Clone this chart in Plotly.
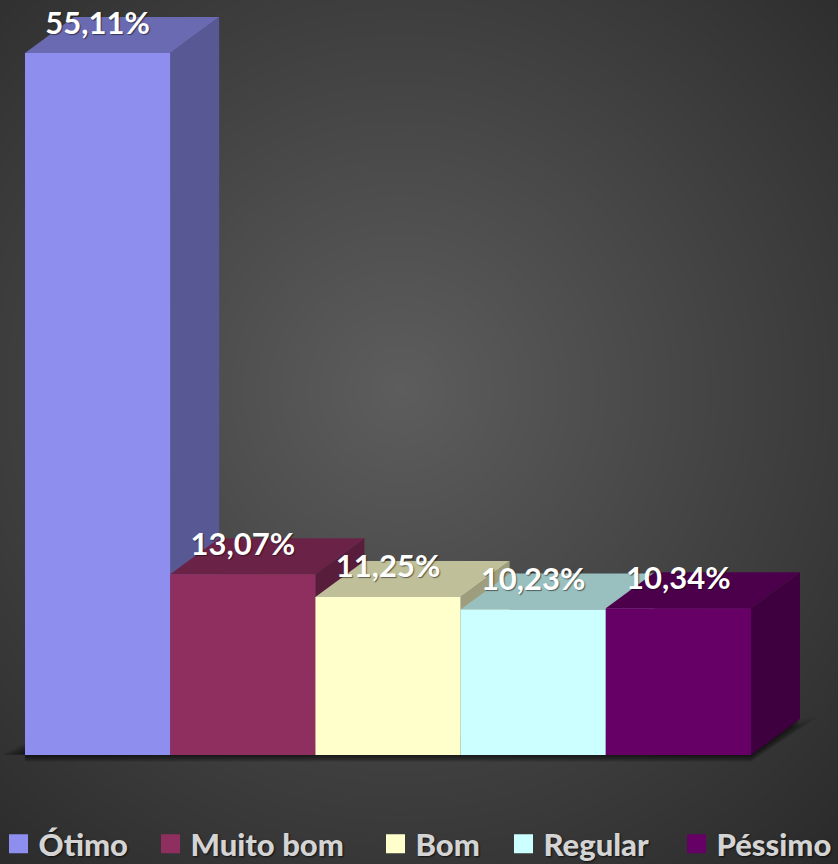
import numpy as np
import plotly.graph_objects as go

categories = ["Ótimo", "Muito bom", "Bom", "Regular", "Péssimo"]
values = [55.11, 13.07, 11.25, 10.23, 10.34]
labels = ["55,11%", "13,07%", "11,25%", "10,23%", "10,34%"]
colors = ["#8E8EEE", "#8E2F5F", "#FFFFCC", "#CCFFFF", "#660066"]
legend_left_px = [9, 161, 386, 514, 687]

W, H = 838, 864
BASE = -1.5          # axis floor
PX_X, PX_Y = 145.2, 12.4
X_RANGE = [-25 / PX_X, (W - 25) / PX_X]
Y_RANGE = [BASE - (H - 755) / PX_Y, BASE + 755 / PX_Y]
DX, DY = 49 / PX_X, 36 / PX_Y


def shade(hex_color, f):
    r, g, b = (int(hex_color[i:i + 2], 16) for i in (1, 3, 5))
    return f"rgb({r * f:.0f},{g * f:.0f},{b * f:.0f})"


def poly(xs, ys, color):
    return go.Scatter(x=xs + xs[:1], y=ys + ys[:1], mode="lines", fill="toself",
                      fillcolor=color, line=dict(width=0), hoverinfo="skip",
                      showlegend=False)


fig = go.Figure()

# radial dark background
gx = np.linspace(*X_RANGE, 140)
gy = np.linspace(*Y_RANGE, 144)
mx, my = np.meshgrid(gx, gy)
r = np.hypot((mx - X_RANGE[0]) * PX_X - 400, (Y_RANGE[1] - my) * PX_Y - 390)
fig.add_trace(go.Heatmap(x=gx, y=gy, z=np.clip(93 - r * 0.08, 40, 96), zmin=0, zmax=255,
                         zsmooth="best", showscale=False, hoverinfo="skip",
                         colorscale=[[0, "#000000"], [1, "#ffffff"]]))

# soft floor shadow
n = len(values)
for t in (1.0, 0.85, 0.7, 0.55, 0.4, 0.25, 0.1):
    fig.add_trace(poly(
        [-0.16 * t, 0, 0, n, n + DX + 0.14 * t, n + DX],
        [BASE, BASE + 0.9 * t, BASE - 0.55 * t, BASE - 0.55 * t, BASE + DY + 0.3 * t, BASE + DY - 0.6 * t],
        "rgba(0,0,0,0.11)"))

# bars, painted from left to right so nearer faces overlap
for i, (v, c) in enumerate(zip(values, colors)):
    x0, x1 = i, i + 1
    fig.add_trace(poly([x1, x1 + DX, x1 + DX, x1], [BASE, BASE + DY, v + DY, v], shade(c, 0.62)))
    fig.add_trace(poly([x0, x1, x1 + DX, x0 + DX], [v, v, v + DY, v + DY], shade(c, 0.75)))
    fig.add_trace(poly([x0, x1, x1, x0], [BASE, BASE, v, v], c))

# data labels
fig.add_trace(go.Scatter(
    x=[i + 0.5 for i in range(n)], y=[v + 2.2 for v in values], text=labels,
    mode="text", textposition="middle center", hoverinfo="skip", showlegend=False,
    textfont=dict(family="Lato", size=31, color="#ffffff", weight=700,
                  shadow="1px 1px 1px rgba(0,0,0,0.5)")))

# legend entries: one small legend per category, placed individually
legend_layout = {}
for k, (cat, c, left) in enumerate(zip(categories, colors, legend_left_px)):
    lid = "legend" if k == 0 else f"legend{k + 1}"
    fig.add_trace(go.Scatter(x=[None], y=[None], mode="markers", name=cat, legend=lid,
                             showlegend=True,
                             marker=dict(symbol="square", size=16, color=c,
                                         line=dict(width=3, color=c))))
    legend_layout[lid] = dict(
        x=(left - 10.5) / W, y=(H - 844) / H, xanchor="left", yanchor="middle",
        bgcolor="rgba(0,0,0,0)", itemsizing="trace", itemwidth=30,
        font=dict(family="Lato", size=31, color="#D4D4D4", weight=900,
                  shadow="1px 1px 2px rgba(0,0,0,0.7)"))

fig.update_layout(
    width=W, height=H, margin=dict(l=0, r=0, t=0, b=0, autoexpand=False),
    paper_bgcolor="#3a3a3a", plot_bgcolor="#3a3a3a",
    xaxis=dict(range=X_RANGE, visible=False, fixedrange=True),
    yaxis=dict(range=Y_RANGE, visible=False, fixedrange=True),
    showlegend=True,
    **legend_layout,
)

fig.write_html("out.html", config={"displayModeBar": False},
               post_script="document.body.style.margin='0';")
